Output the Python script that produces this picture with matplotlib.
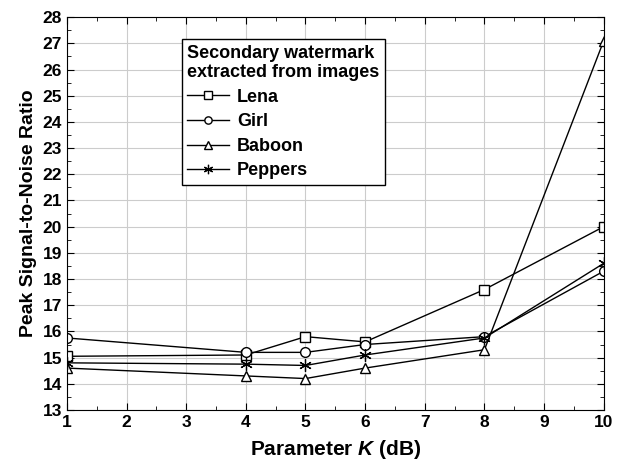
import matplotlib
matplotlib.use('Agg')
import matplotlib.pyplot as plt
from matplotlib.ticker import MultipleLocator

plt.rcParams['font.family'] = ['Liberation Sans', 'DejaVu Sans']
plt.rcParams['font.weight'] = 'bold'
plt.rcParams['mathtext.fontset'] = 'custom'
plt.rcParams['mathtext.it'] = 'Liberation Sans:italic:bold'

k_values = [1, 4, 5, 6, 8, 10]
lena = [15.05, 15.1, 15.8, 15.6, 17.6, 20.0]
girl = [15.75, 15.2, 15.2, 15.5, 15.8, 18.3]
baboon = [14.6, 14.3, 14.2, 14.6, 15.3, 27.1]
peppers = [14.8, 14.75, 14.7, 15.1, 15.75, 18.6]

fig = plt.figure(figsize=(6.25, 4.63), dpi=100)
ax = fig.add_axes([0.107, 0.1145, 0.859, 0.8485])

style = dict(color='black', lw=1.0, markerfacecolor='white', markeredgecolor='black',
             markersize=7, markeredgewidth=1.0)
ax.plot(k_values, lena, marker='s', label='Lena', **style)
ax.plot(k_values, girl, marker='o', label='Girl', **style)
ax.plot(k_values, baboon, marker='^', label='Baboon', **style)
ax.plot(k_values, peppers, marker=(6, 2, 0), label='Peppers', **dict(style, markersize=9, markeredgewidth=0.9))

ax.set_xlim(1, 10)
ax.set_ylim(13, 28)
ax.xaxis.set_major_locator(MultipleLocator(1))
ax.xaxis.set_minor_locator(MultipleLocator(0.5))
ax.yaxis.set_major_locator(MultipleLocator(1))
ax.yaxis.set_minor_locator(MultipleLocator(0.5))
ax.tick_params(which='both', direction='in', top=True, right=True, labelsize=12.5)
ax.tick_params(which='major', length=5)
ax.tick_params(which='minor', length=3)
ax.grid(True, which='major', color='#cccccc', lw=0.8)
ax.set_axisbelow(True)

ax.set_xlabel('Parameter $\\mathit{K}$ (dB)', fontsize=15, fontweight='bold', labelpad=6)
ax.set_ylabel('Peak Signal-to-Noise Ratio', fontsize=14, fontweight='bold')

leg = ax.legend(title='Secondary watermark\nextracted from images', loc='upper left',
                bbox_to_anchor=(0.214, 0.944), borderaxespad=0, fontsize=13, title_fontsize=13,
                frameon=True, fancybox=False, edgecolor='black', framealpha=1,
                handlelength=2.3, borderpad=0.3, labelspacing=0.42, handletextpad=0.45,
                markerscale=0.75, alignment='left')
leg.get_title().set_fontweight('bold')
leg.get_frame().set_linewidth(1.0)

fig.savefig('out.png', dpi=100)
